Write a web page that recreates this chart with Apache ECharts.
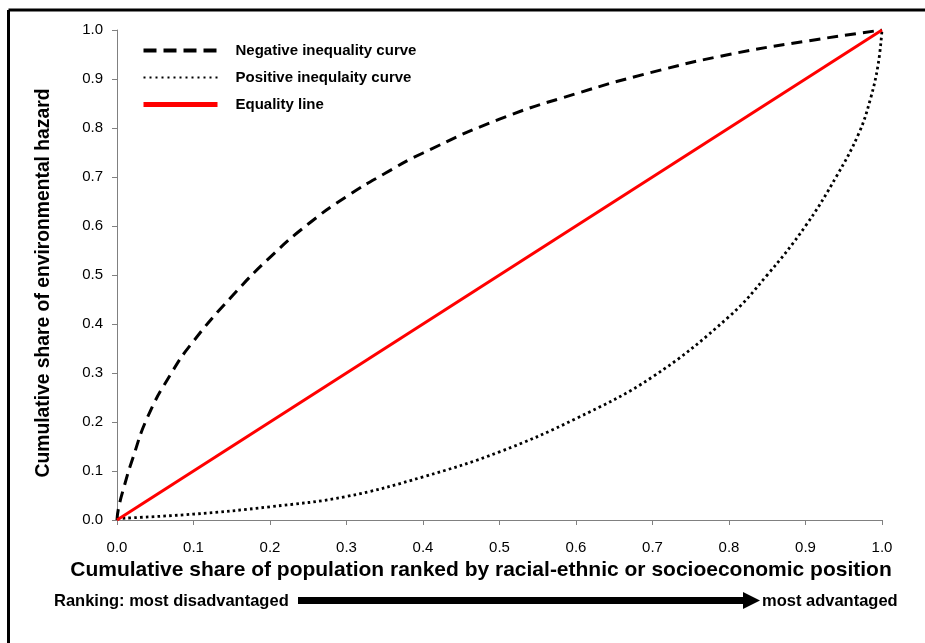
<!DOCTYPE html>
<html>
<head>
<meta charset="utf-8">
<script src="https://cdn.jsdelivr.net/npm/echarts@6/dist/echarts.min.js"></script>
<style>html,body{margin:0;padding:0;background:#fff;}#c{width:925px;height:643px;}</style>
</head>
<body>
<div id="c"></div>
<script>
var seriesNames = ['Negative inequality curve', 'Positive inequlaity curve', 'Equality line'];
var negX = [0, 0.002, 0.01, 0.02, 0.04, 0.07, 0.1, 0.15, 0.2, 0.25, 0.3, 0.35, 0.4, 0.5, 0.6, 0.7, 0.8, 0.9, 1.0];
var negY = [0, 0.024, 0.072, 0.123, 0.21, 0.297, 0.365, 0.456, 0.536, 0.604, 0.66, 0.707, 0.749, 0.818, 0.87, 0.914, 0.95, 0.977, 1.0];
var posX = [0, 0.1, 0.2, 0.3, 0.4, 0.5, 0.6, 0.7, 0.8, 0.85, 0.9, 0.94, 0.97, 0.985, 0.995, 1.0];
var posY = [0.003, 0.012, 0.027, 0.048, 0.088, 0.139, 0.207, 0.292, 0.415, 0.50, 0.60, 0.70, 0.79, 0.86, 0.93, 1.0];
var eqX = [0, 1];
var eqY = [0, 1];
var xTitle = 'Cumulative share of population ranked by racial-ethnic or socioeconomic position';
var yTitle = 'Cumulative share of environmental hazard';
var leftNote = 'Ranking: most disadvantaged';
var rightNote = 'most advantaged';

function pairs(xs, ys) { return xs.map(function (x, i) { return [x, ys[i]]; }); }
var FONT = "'Liberation Sans', Arial, sans-serif";
var hide = { opacity: 0, color: 'transparent', borderWidth: 0 };

var chart = echarts.init(document.getElementById('c'));
chart.setOption({
  animation: false,
  backgroundColor: '#fff',
  textStyle: { fontFamily: FONT },
  grid: { left: 117, right: 43, top: 30, bottom: 123 },
  legend: {
    orient: 'vertical', left: 141, top: 43, padding: 0,
    itemWidth: 74, itemHeight: 14, itemGap: 12,
    itemStyle: hide,
    data: [
      { name: seriesNames[0], itemStyle: hide, lineStyle: { color: '#000', width: 4, type: [13, 7] } },
      { name: seriesNames[1], itemStyle: hide, lineStyle: { color: '#000', width: 2.2, type: [2, 4] } },
      { name: seriesNames[2], itemStyle: hide, lineStyle: { color: '#ff0000', width: 5 } }
    ],
    textStyle: { fontFamily: FONT, fontWeight: 'bold', fontSize: 15, color: '#000', padding: [0, 0, 0, 13] }
  },
  xAxis: {
    type: 'value', min: 0, max: 1, interval: 0.1,
    name: xTitle, nameLocation: 'middle', nameGap: 30,
    nameTextStyle: { fontFamily: FONT, fontWeight: 'bold', fontSize: 21, color: '#000', padding: [0, 37, 0, 0] },
    splitLine: { show: false },
    axisLine: { lineStyle: { color: '#808080', width: 1 } },
    axisTick: { inside: false, length: 5, lineStyle: { color: '#808080' } },
    axisLabel: { margin: 20, fontSize: 15, color: '#000', fontFamily: FONT, formatter: function (v) { return v.toFixed(1); } }
  },
  yAxis: {
    type: 'value', min: 0, max: 1, interval: 0.1,
    name: yTitle, nameLocation: 'middle', nameGap: 64,
    nameTextStyle: { fontFamily: FONT, fontWeight: 'bold', fontSize: 19.3, color: '#000', padding: [0, 16, 0, 0] },
    splitLine: { show: false },
    axisLine: { show: true, lineStyle: { color: '#808080', width: 1 } },
    axisTick: { show: true, inside: false, length: 5, lineStyle: { color: '#808080' } },
    axisLabel: { margin: 14, fontSize: 15, color: '#000', fontFamily: FONT, formatter: function (v) { return v.toFixed(1); } }
  },
  series: [
    {
      name: seriesNames[0], type: 'line', data: pairs(negX, negY),
      smooth: 0.5, symbol: 'none',
      lineStyle: { color: '#000', width: 3, type: [11, 7] }, itemStyle: { color: '#000' }
    },
    {
      name: seriesNames[1], type: 'line', data: pairs(posX, posY),
      smooth: 0.4, symbol: 'none',
      lineStyle: { color: '#000', width: 2.8, type: [2.6, 3.2] }, itemStyle: { color: '#000' }
    },
    {
      name: seriesNames[2], type: 'line', data: pairs(eqX, eqY),
      symbol: 'none', z: 3,
      lineStyle: { color: '#ff0000', width: 3 }, itemStyle: { color: '#ff0000' }
    }
  ],
  graphic: [
    { type: 'line', shape: { x1: 8.5, y1: 10, x2: 925, y2: 10 }, style: { stroke: '#000', lineWidth: 3 } },
    { type: 'line', shape: { x1: 8.5, y1: 10, x2: 8.5, y2: 643 }, style: { stroke: '#000', lineWidth: 3 } },
    { type: 'text', left: 54, top: 593, style: { text: leftNote, font: "bold 16.5px " + FONT, fill: '#000' } },
    { type: 'rect', shape: { x: 298, y: 597, width: 447, height: 7 }, style: { fill: '#000' } },
    { type: 'polygon', shape: { points: [[743, 592], [760, 600.5], [743, 609]] }, style: { fill: '#000' } },
    { type: 'text', left: 762, top: 593, style: { text: rightNote, font: "bold 16.5px " + FONT, fill: '#000' } }
  ]
});
</script>
</body>
</html>
